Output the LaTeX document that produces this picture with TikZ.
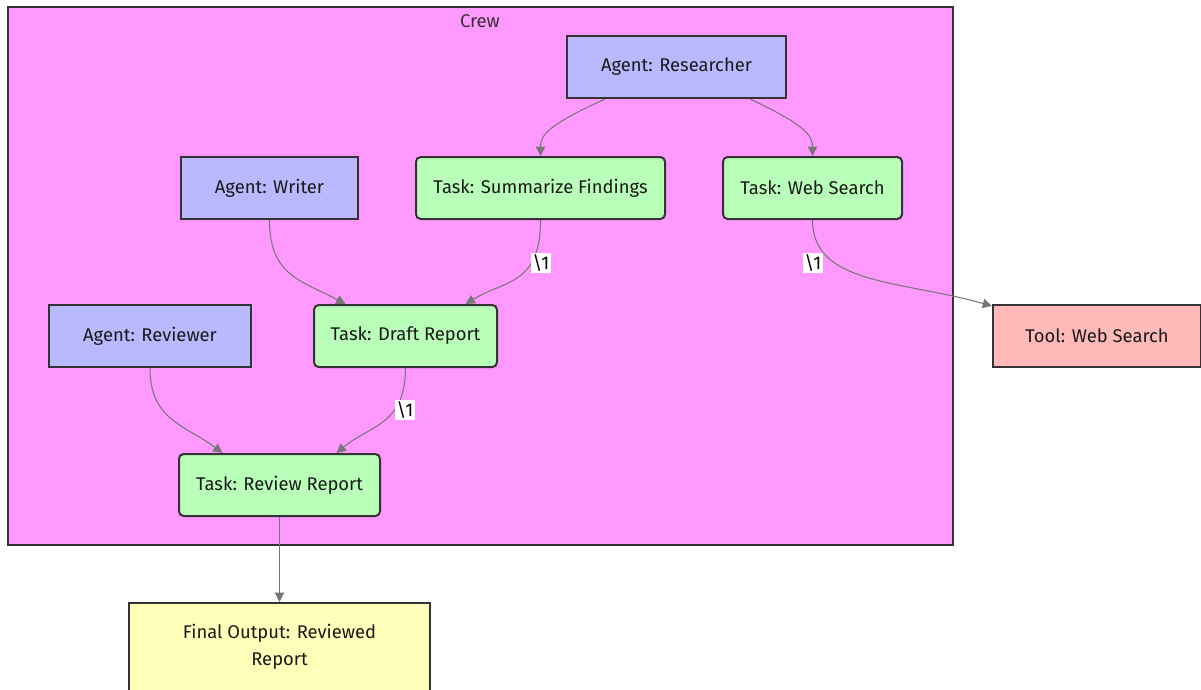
\documentclass[tikz,border=0pt]{standalone}
\usepackage{fontspec}
\setmainfont{Fira Sans}
\usetikzlibrary{arrows.meta,calc}
\definecolor{crewfill}{HTML}{FF99FF}
\definecolor{agentfill}{HTML}{B9B9FF}
\definecolor{taskfill}{HTML}{B9FFB9}
\definecolor{toolfill}{HTML}{FFB9B9}
\definecolor{outfill}{HTML}{FFFFB9}
\definecolor{edgegray}{HTML}{777777}
\definecolor{inkdark}{HTML}{333333}
\definecolor{textdark}{HTML}{1A1A1A}
\tikzset{
  box/.style={draw=inkdark, line width=1.5pt, text=textdark, inner sep=0pt,
    font=\fontsize{13.8}{20.25}\selectfont, minimum height=46.5pt},
  agent/.style={box, fill=agentfill},
  task/.style={box, fill=taskfill, rounded corners=3.5pt},
  tool/.style={box, fill=toolfill},
  outbox/.style={box, fill=outfill, align=center},
  link/.style={draw=edgegray, line width=0.8pt, -{Triangle[length=7pt,width=7pt]}},
  lbl/.style={fill=white, text=black, inner sep=1pt, font=\fontsize{13.8}{16}\selectfont}
}
\begin{document}
\begin{tikzpicture}[x=0.75pt,y=-0.75pt]
\clip (0,0) rectangle (1201,689);
\fill[white] (0,0) rectangle (1201,689);

% crew container
\draw[fill=crewfill, draw=inkdark, line width=1.5pt] (8,7) rectangle (953,545);
\node[text=inkdark, font=\fontsize{13.8}{16}\selectfont] (crew) at (480,21) {Crew};

% nodes
\node[agent, minimum width=164.25pt] (res) at (676.5,67) {Agent: Researcher};
\node[agent, minimum width=132.75pt] (writer) at (269.5,188) {Agent: Writer};
\node[task, minimum width=186.75pt] (summ) at (540.5,188) {Task: Summarize Findings};
\node[task, minimum width=134.25pt] (web) at (812.5,188) {Task: Web Search};
\node[agent, minimum width=151.5pt] (reviewer) at (150,336) {Agent: Reviewer};
\node[task, minimum width=137.25pt] (draft) at (405.5,336) {Task: Draft Report};
\node[tool, minimum width=156pt] (tool) at (1097,336) {Tool: Web Search};
\node[task, minimum width=150.75pt] (review) at (279.5,485) {Task: Review Report};
\node[outbox, minimum width=225.75pt, minimum height=66pt] (final) at (279.5,647) {Final Output: Reviewed\\Report};

% connectors
\draw[link] ($(res.south)+(-71.5,0)$) .. controls (548,125) and (540.5,135) .. (summ.north);
\draw[link] ($(res.south)+(73.5,0)$) .. controls (805,125) and (812.5,135) .. (web.north);
\draw[link] (writer.south) .. controls (269.5,275) and (300,280) .. ($(draft.north)+(-60,0)$);
\draw[link] (summ.south) .. controls (540.5,285) and (505,280) .. ($(draft.north)+(60,0)$);
\draw[link] (web.south) .. controls (812.5,285) and (900,280) .. ($(tool.north west)+(0,2)$);
\draw[link] (reviewer.south) .. controls (150,420) and (185,425) .. ($(review.north)+(-57,0)$);
\draw[link] (draft.south) .. controls (405.5,425) and (370,425) .. ($(review.north)+(57,0)$);
\draw[link] (review.south) -- (final.north);

% edge labels
\node[lbl] (l1) at (541,263) {\textbackslash 1};
\node[lbl] (l2) at (813,263) {\textbackslash 1};
\node[lbl] (l3) at (405,410) {\textbackslash 1};
\end{tikzpicture}
\end{document}
